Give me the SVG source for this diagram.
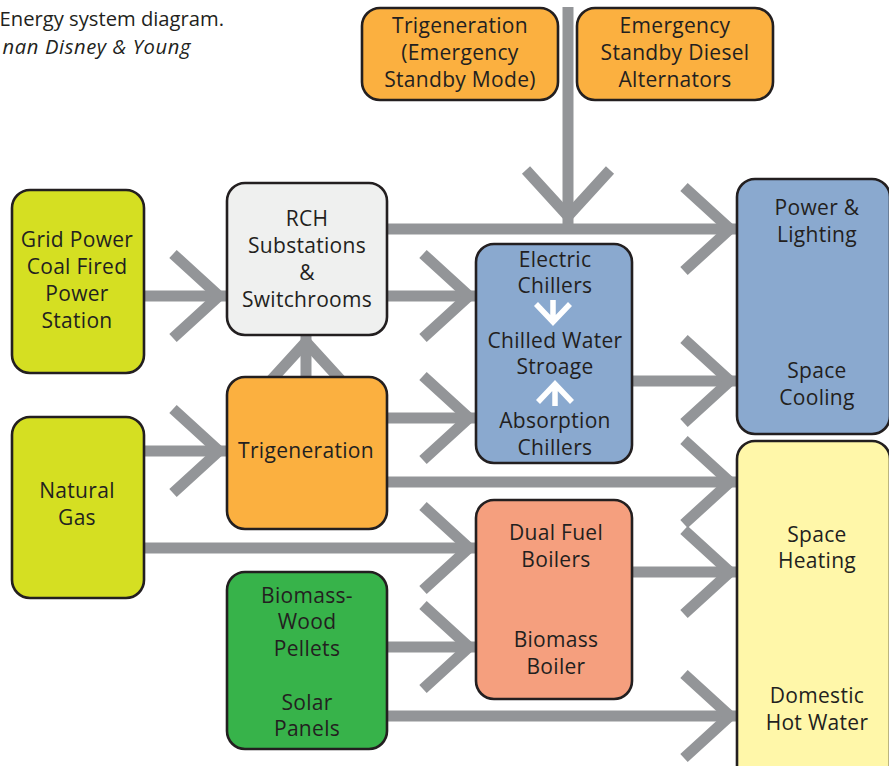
<svg xmlns="http://www.w3.org/2000/svg" xmlns:xlink="http://www.w3.org/1999/xlink" width="889" height="766" viewBox="0 0 889 766">
  <defs>
    <style>
      .flow { fill: none; stroke: #939598; stroke-width: 11; stroke-linecap: butt; stroke-linejoin: miter; stroke-miterlimit: 10; }
      .box { stroke: #231f20; stroke-width: 2.6; }
      .lbl { font-family: "Open Sans", "Noto Sans", "DejaVu Sans", sans-serif; font-size: 21px; letter-spacing: 0.3px; fill: #231f20; text-anchor: middle; }
      .cap { font-family: "Open Sans", "Noto Sans", "DejaVu Sans", sans-serif; font-size: 20.2px; fill: #231f20; text-anchor: end; }
      .inner { fill: none; stroke: #ffffff; stroke-width: 5.5; stroke-linejoin: miter; }
      .lime { fill: #d5df22; }
      .grey { fill: #eff0ef; }
      .orange { fill: #fbb040; }
      .blue { fill: #8aa9cf; }
      .salmon { fill: #f59f7e; }
      .green { fill: #37b34a; }
      .cream { fill: #fff7a9; }
    </style>
    <!-- open chevron head, tip at origin, pointing +x -->
    <path id="chev" class="flow" d="M-46,-42 L0,0 L-46,42"/>
  </defs>

  <!-- caption -->
  <text class="cap" x="224" y="26">Energy system diagram.</text>
  <text class="cap" x="191" y="54" font-style="italic" font-size="22" letter-spacing="0.6">nan Disney &amp; Young</text>

  <g id="connectors">
    <!-- shafts -->
    <line class="flow" x1="144" y1="296" x2="226" y2="296"/>
    <line class="flow" x1="387" y1="296" x2="476" y2="296"/>
    <line class="flow" x1="387" y1="229" x2="737" y2="229"/>
    <line class="flow" x1="568" y1="7" x2="568" y2="229"/>
    <line class="flow" x1="306" y1="377" x2="306" y2="335"/>
    <line class="flow" x1="144" y1="451" x2="226" y2="451"/>
    <line class="flow" x1="387" y1="418" x2="476" y2="418"/>
    <line class="flow" x1="387" y1="482" x2="737" y2="482"/>
    <line class="flow" x1="144" y1="548" x2="476" y2="548"/>
    <line class="flow" x1="387" y1="647" x2="476" y2="647"/>
    <line class="flow" x1="387" y1="716" x2="737" y2="716"/>
    <line class="flow" x1="632" y1="381" x2="737" y2="381"/>
    <line class="flow" x1="632" y1="572" x2="737" y2="572"/>
    <!-- heads -->
    <use xlink:href="#chev" transform="translate(219,296)"/>
    <use xlink:href="#chev" transform="translate(469,296)"/>
    <use xlink:href="#chev" transform="translate(730,229)"/>
    <use xlink:href="#chev" transform="translate(568,216) rotate(90)"/>
    <use xlink:href="#chev" transform="translate(306,342) rotate(-90)"/>
    <use xlink:href="#chev" transform="translate(219,451)"/>
    <use xlink:href="#chev" transform="translate(469,418)"/>
    <use xlink:href="#chev" transform="translate(730,482)"/>
    <use xlink:href="#chev" transform="translate(469,548)"/>
    <use xlink:href="#chev" transform="translate(469,647)"/>
    <use xlink:href="#chev" transform="translate(730,716)"/>
    <use xlink:href="#chev" transform="translate(730,381)"/>
    <use xlink:href="#chev" transform="translate(730,572)"/>
  </g>

  <g id="grid-power">
    <rect class="box lime" x="12" y="190" width="132" height="183" rx="18"/>
    <text class="lbl" x="77" y="247">Grid Power</text>
    <text class="lbl" x="77" y="274">Coal Fired</text>
    <text class="lbl" x="77" y="301">Power</text>
    <text class="lbl" x="77" y="328">Station</text>
  </g>

  <g id="natural-gas">
    <rect class="box lime" x="12" y="417" width="132" height="181" rx="18"/>
    <text class="lbl" x="77" y="498">Natural</text>
    <text class="lbl" x="77" y="525">Gas</text>
  </g>

  <g id="rch-substations">
    <rect class="box grey" x="227" y="183" width="160" height="152" rx="18"/>
    <text class="lbl" x="307" y="226">RCH</text>
    <text class="lbl" x="307" y="253">Substations</text>
    <text class="lbl" x="307" y="280">&amp;</text>
    <text class="lbl" x="307" y="307">Switchrooms</text>
  </g>

  <g id="trigeneration">
    <rect class="box orange" x="227" y="377" width="160" height="152" rx="18"/>
    <text class="lbl" x="306" y="458">Trigeneration</text>
  </g>

  <g id="biomass-solar">
    <rect class="box green" x="227" y="572" width="160" height="177" rx="18"/>
    <text class="lbl" x="307" y="603">Biomass-</text>
    <text class="lbl" x="307" y="629">Wood</text>
    <text class="lbl" x="307" y="656">Pellets</text>
    <text class="lbl" x="307" y="710">Solar</text>
    <text class="lbl" x="307" y="736">Panels</text>
  </g>

  <g id="trigeneration-emergency">
    <rect class="box orange" x="362" y="8" width="196" height="92" rx="18"/>
    <text class="lbl" x="460" y="33">Trigeneration</text>
    <text class="lbl" x="460" y="60">(Emergency</text>
    <text class="lbl" x="460" y="87">Standby Mode)</text>
  </g>

  <g id="diesel-alternators">
    <rect class="box orange" x="577" y="8" width="196" height="92" rx="18"/>
    <text class="lbl" x="675" y="33">Emergency</text>
    <text class="lbl" x="675" y="60">Standby Diesel</text>
    <text class="lbl" x="675" y="87">Alternators</text>
  </g>

  <g id="chillers">
    <rect class="box blue" x="476" y="244" width="156" height="219" rx="18"/>
    <text class="lbl" x="555" y="267">Electric</text>
    <text class="lbl" x="555" y="293">Chillers</text>
    <path class="inner" d="M553,300 L553,322 M536,304 L553,322 L570,304"/>
    <text class="lbl" x="555" y="348">Chilled Water</text>
    <text class="lbl" x="555" y="374">Stroage</text>
    <path class="inner" d="M555,406 L555,384 M538,402 L555,384 L572,402"/>
    <text class="lbl" x="555" y="428">Absorption</text>
    <text class="lbl" x="555" y="455">Chillers</text>
  </g>

  <g id="boilers">
    <rect class="box salmon" x="476" y="500" width="156" height="199" rx="18"/>
    <text class="lbl" x="556" y="540">Dual Fuel</text>
    <text class="lbl" x="556" y="567">Boilers</text>
    <text class="lbl" x="556" y="647">Biomass</text>
    <text class="lbl" x="556" y="674">Boiler</text>
  </g>

  <g id="power-cooling">
    <rect class="box blue" x="737" y="179" width="153" height="255" rx="18"/>
    <text class="lbl" x="817" y="215">Power &amp;</text>
    <text class="lbl" x="817" y="242">Lighting</text>
    <text class="lbl" x="817" y="378">Space</text>
    <text class="lbl" x="817" y="405">Cooling</text>
  </g>

  <g id="heating-hot-water">
    <rect class="box cream" x="737" y="441" width="153" height="345" rx="18"/>
    <text class="lbl" x="817" y="542">Space</text>
    <text class="lbl" x="817" y="568">Heating</text>
    <text class="lbl" x="817" y="703">Domestic</text>
    <text class="lbl" x="817" y="730">Hot Water</text>
  </g>
</svg>
